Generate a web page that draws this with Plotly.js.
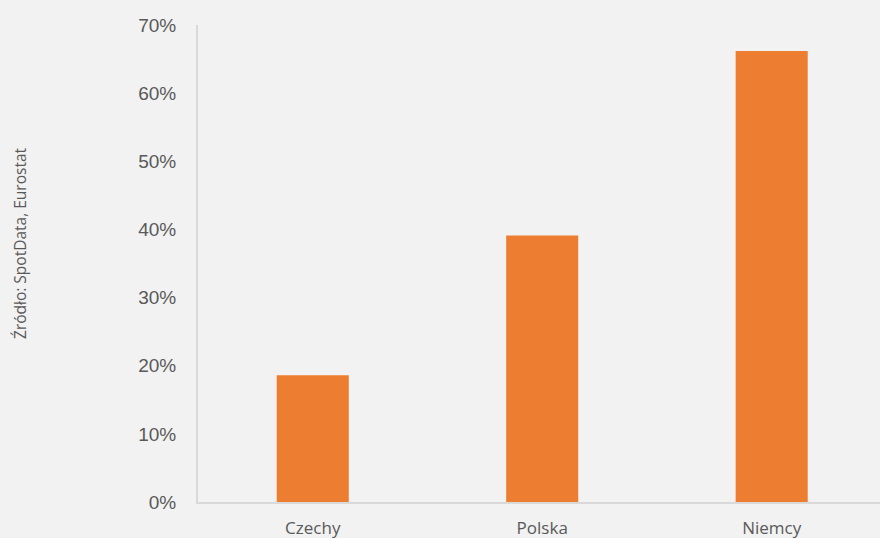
<!DOCTYPE html>
<html>
<head>
<meta charset="utf-8">
<script src="https://cdn.plot.ly/plotly-3.0.1.min.js"></script>
<style>html,body{margin:0;padding:0;background:#f2f2f2;}</style>
</head>
<body>
<div id="chart" style="width:880px;height:538px;"></div>
<script>
const categories = ["Czechy", "Polska", "Niemcy"];
const values = [0.186, 0.391, 0.662];
const yTickVals = [0, 0.1, 0.2, 0.3, 0.4, 0.5, 0.6, 0.7];
const yTickText = ["0%", "10%", "20%", "30%", "40%", "50%", "60%", "70%"];
const sourceText = "Źródło: SpotData, Eurostat";

const trace = {
  type: "bar",
  x: categories,
  y: values,
  width: 0.314,
  marker: {color: "#ed7d31"},
  hoverinfo: "skip"
};

const layout = {
  width: 880, height: 538,
  paper_bgcolor: "#f2f2f2",
  plot_bgcolor: "#f2f2f2",
  margin: {l: 198, r: 0, t: 25, b: 36},
  showlegend: false,
  xaxis: {
    range: [-0.5, 2.472],
    showgrid: false, zeroline: false,
    showline: true, linecolor: "#d9d9d9", linewidth: 2,
    ticks: "outside", ticklen: 10, tickcolor: "rgba(0,0,0,0)",
    tickfont: {family: "Open Sans, sans-serif", size: 17, color: "#595959"}
  },
  yaxis: {
    range: [0, 0.7],
    tickvals: yTickVals, ticktext: yTickText,
    showgrid: false, zeroline: false,
    showline: true, linecolor: "#d9d9d9", linewidth: 2,
    ticks: "outside", ticklen: 16, tickcolor: "rgba(0,0,0,0)",
    tickfont: {family: "Liberation Sans, Arial, sans-serif", size: 19, color: "#595959"}
  },
  annotations: [{
    text: sourceText,
    xref: "paper", yref: "paper",
    x: -198/682 + 20/682, y: 0.543,
    xanchor: "center", yanchor: "middle",
    textangle: -90, showarrow: false,
    font: {family: "Open Sans, sans-serif", size: 15.5, color: "#595959"}
  }]
};

Plotly.newPlot("chart", [trace], layout, {displayModeBar: false, staticPlot: true});
</script>
</body>
</html>
